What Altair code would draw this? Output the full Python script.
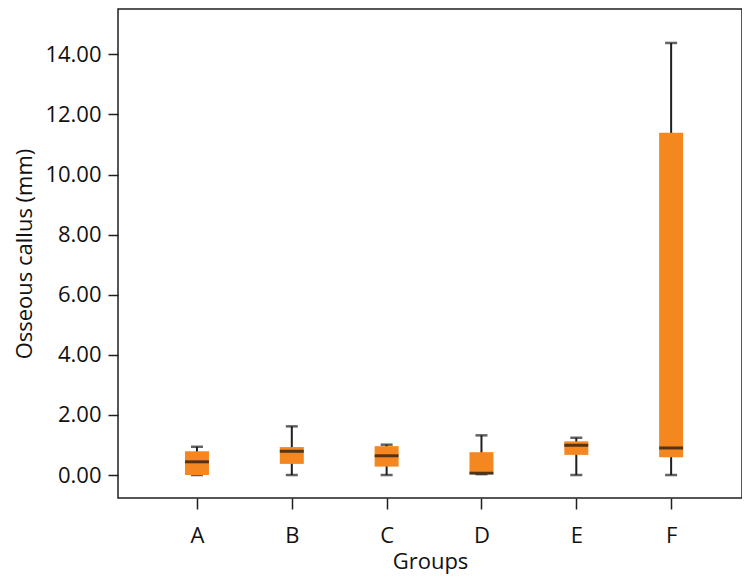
import altair as alt
import pandas as pd

groups = ["A", "B", "C", "D", "E", "F"]
mins = [0.00, 0.00, 0.00, 0.03, 0.00, 0.00]
q1s = [0.00, 0.37, 0.28, 0.03, 0.67, 0.59]
medians = [0.44, 0.79, 0.64, 0.06, 0.99, 0.90]
q3s = [0.79, 0.93, 0.96, 0.76, 1.12, 11.39]
maxs = [0.94, 1.62, 1.01, 1.32, 1.24, 14.38]

df = pd.DataFrame({"group": groups, "min": mins, "q1": q1s, "median": medians,
                   "q3": q3s, "max": maxs})

FONT = "Open Sans"
ORANGE = "#F58720"
DARK = "#1f1f1f"

x = alt.X("group:N", title="Groups",
          scale=alt.Scale(type="point", padding=0.79, align=0.527),
          axis=alt.Axis(labelAngle=0, domain=False, ticks=True, tickSize=11,
                        tickColor=DARK, tickWidth=1.5, labelPadding=16,
                        labelFontSize=22, titleFontSize=22, labelFont=FONT,
                        titleFont=FONT, titleFontWeight="normal", titlePadding=5,
                        labelColor="#111", titleColor="#111"))
yscale = alt.Scale(domain=[-0.765, 15.51], nice=False, zero=False)
yaxis = alt.Axis(values=[0, 2, 4, 6, 8, 10, 12, 14], format=".2f", grid=False,
                 domain=False, tickSize=10, tickColor=DARK, tickWidth=1.5,
                 labelPadding=7, labelFontSize=22, titleFontSize=22, labelFont=FONT,
                 titleFont=FONT, titleFontWeight="normal", titlePadding=8,
                 labelColor="#111", titleColor="#111")

base = alt.Chart(df)

whisker = base.mark_rule(color=DARK, strokeWidth=2).encode(
    x=x,
    y=alt.Y("min:Q", scale=yscale, axis=yaxis, title="Osseous callus (mm)"),
    y2="max:Q",
)
cap_top = base.mark_tick(color=DARK, size=12, thickness=2.5, orient="horizontal").encode(
    x=x, y=alt.Y("max:Q", scale=yscale))
cap_bot = base.mark_tick(color=DARK, size=12, thickness=2.5, orient="horizontal").encode(
    x=x, y=alt.Y("min:Q", scale=yscale))
box = base.mark_bar(color=ORANGE, size=24).encode(
    x=x, y=alt.Y("q1:Q", scale=yscale), y2="q3:Q")
med = base.mark_tick(color="#111", size=24, thickness=3, orient="horizontal").encode(
    x=x, y=alt.Y("median:Q", scale=yscale))

chart = alt.layer(whisker, cap_top, cap_bot, box, med).properties(
    width=624, height=489,
    background="white",
    autosize=alt.AutoSizeParams(type="none"),
    padding={"left": 110, "top": 1, "right": 0, "bottom": 78},
).configure_view(stroke=DARK, strokeWidth=1.5)

chart.save("out.html", embed_options={"renderer": "svg", "actions": False})
